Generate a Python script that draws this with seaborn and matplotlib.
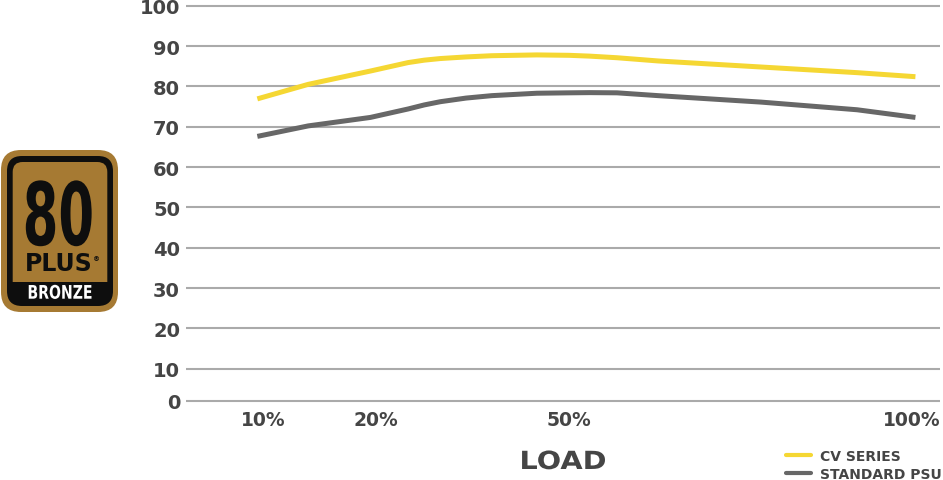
import numpy as np
import pandas as pd
import matplotlib
matplotlib.use("Agg")
import matplotlib.pyplot as plt
import matplotlib.patheffects as patheffects
from matplotlib.patches import FancyBboxPatch, Rectangle
from matplotlib.lines import Line2D
from matplotlib.transforms import Affine2D
import seaborn as sns

# data
load = [9.5, 14, 19.5, 25, 27.5, 30, 34, 38, 45, 50, 53, 57, 63, 78, 92, 100.5]
cv_series = [76.9, 80.5, 83.8, 85.9, 86.5, 86.9, 87.3, 87.6, 87.8, 87.7, 87.5, 87.1, 86.3, 84.8, 83.4, 82.4]
standard_psu = [67.6, 70.2, 72.3, 74.4, 75.4, 76.2, 77.1, 77.7, 78.3, 78.4, 78.45, 78.4, 77.7, 76.1, 74.2, 72.3]
series_names = ["CV SERIES", "STANDARD PSU"]
x_ticks = [10, 20, 50, 100]
x_tick_labels = ["10%", "20%", "50%", "100%"]
y_ticks = [0, 10, 20, 30, 40, 50, 60, 70, 80, 90, 100]

colors = {"CV SERIES": "#f5d733", "STANDARD PSU": "#676767"}
text_color = "#454545"
bronze = "#a67a33"
badge_black = "#0e0e0e"

df = pd.DataFrame({
    "load": load + load,
    "efficiency": cv_series + standard_psu,
    "series": [series_names[0]] * len(load) + [series_names[1]] * len(load),
})


# stretches glyphs of a text about its centre / baseline
class Stretch(patheffects.AbstractPathEffect):
    def __init__(self, sx=1.0, sy=1.0):
        super().__init__()
        self.sx = sx
        self.sy = sy

    def draw_path(self, renderer, gc, tpath, affine, rgbFace=None):
        ext = tpath.get_extents()
        cx, cy = affine.transform(((ext.x0 + ext.x1) / 2, 0))
        st = Affine2D().translate(-cx, -cy).scale(self.sx, self.sy).translate(cx, cy)
        renderer.draw_path(gc, tpath, affine + st, rgbFace)


# uneven axis spacing of the original
load_anchor = [-100, 0, 10, 20, 50, 100, 200]
load_pos = [-980, 150, 263, 376, 569, 912, 1598]
eff_anchor = [-100, 0, 10, 100, 200]
eff_pos = [-77.2, 2.07, 10, 100, 200]


def x_fwd(v):
    return np.interp(v, load_anchor, load_pos)


def x_inv(v):
    return np.interp(v, load_pos, load_anchor)


def y_fwd(v):
    return np.interp(v, eff_anchor, eff_pos)


def y_inv(v):
    return np.interp(v, eff_pos, eff_anchor)


sns.set_style("white")
plt.rcParams["font.family"] = ["DejaVu Sans"]

fig = plt.figure(figsize=(9.43, 4.81), dpi=100)

# background layer in pixel units for badge and labels
deco = fig.add_axes([0, 0, 1, 1])
deco.set_xlim(0, 943)
deco.set_ylim(481, 0)
deco.axis("off")

ax = fig.add_axes([186 / 943, (481 - 404.9) / 481, 754 / 943, (404.9 - 2.67) / 481])
ax.set_facecolor("none")

sns.lineplot(
    data=df,
    x="load",
    y="efficiency",
    hue="series",
    palette=colors,
    linewidth=3.6,
    legend=False,
    ax=ax,
)
for line in ax.lines:
    line.set_solid_capstyle("butt")
    line.set_solid_joinstyle("round")

ax.set_xscale("function", functions=(x_fwd, x_inv))
ax.set_yscale("function", functions=(y_fwd, y_inv))
ax.set_xlim(x_inv(186), x_inv(940))
ax.set_ylim(-1, 101)
ax.set_xticks(x_ticks)
ax.set_xticklabels(x_tick_labels)
ax.set_yticks(y_ticks)
ax.set_yticklabels([str(t) for t in y_ticks])
ax.minorticks_off()
ax.set_xlabel("")
ax.set_ylabel("")
ax.yaxis.grid(True, color="#aaaaaa", linewidth=1.5)
ax.xaxis.grid(False)
for s in ax.spines.values():
    s.set_visible(False)
ax.tick_params(axis="y", length=0, pad=4.3, labelsize=14, labelcolor=text_color)
ax.tick_params(axis="x", length=0, pad=4.4, labelsize=13.5, labelcolor=text_color)
for lab in ax.get_xticklabels() + ax.get_yticklabels():
    lab.set_fontweight("bold")

# axis title
deco.text(563, 470, "LOAD", ha="center", va="baseline", fontsize=18,
          fontweight="bold", color=text_color, path_effects=[Stretch(1.15, 1.0)])

# legend
handles = [Line2D([], [], color=colors[n], linewidth=3) for n in series_names]
leg = ax.legend(
    handles, series_names,
    loc="upper left",
    bbox_to_anchor=(786 / 943, (481 - 450) / 481),
    bbox_transform=fig.transFigure,
    frameon=False,
    borderpad=0,
    borderaxespad=0,
    handlelength=1.8,
    handletextpad=0.65,
    labelspacing=0.3,
    prop={"weight": "bold", "size": 10},
)
for t in leg.get_texts():
    t.set_color(text_color)

# 80 plus bronze badge
deco.add_patch(FancyBboxPatch((1, 151), 117, 162, boxstyle="round,pad=0,rounding_size=20",
                              facecolor=bronze, edgecolor="none"))
deco.add_patch(FancyBboxPatch((7, 157), 106, 150, boxstyle="round,pad=0,rounding_size=15",
                              facecolor=badge_black, edgecolor="none"))
deco.add_patch(FancyBboxPatch((12.7, 163), 94.6, 130, boxstyle="round,pad=0,rounding_size=10",
                              facecolor=bronze, edgecolor="none"))
deco.add_patch(Rectangle((10, 283), 100, 18, facecolor=badge_black, edgecolor="none"))

deco.text(58.5, 246, "80", ha="center", va="baseline", fontsize=22, fontweight="bold",
          color=badge_black, path_effects=[Stretch(1.68, 2.85)])
deco.text(58.8, 271.3, "PLUS", ha="center", va="baseline", fontsize=17, fontweight="bold",
          color=badge_black)
deco.text(96.5, 261, "\u00ae", ha="center", va="baseline", fontsize=5, fontweight="bold",
          color=badge_black)
deco.text(60, 299.7, "BRONZE", ha="center", va="baseline", fontsize=13.5, fontweight="bold",
          color="white", path_effects=[Stretch(0.75, 1.0)])

fig.savefig("out.png", dpi=100)
